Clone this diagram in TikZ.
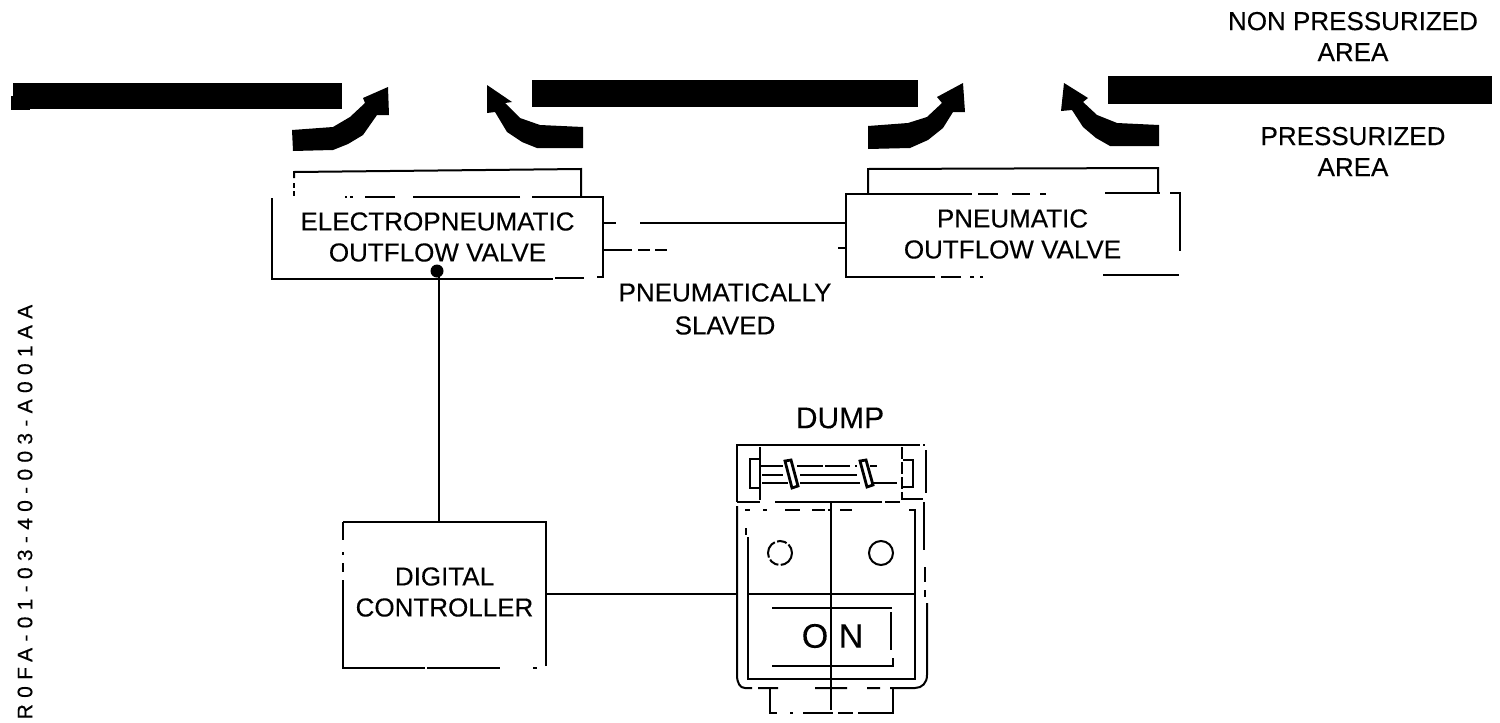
\documentclass[tikz,border=0pt]{standalone}
\usepackage{fontspec}
\setmainfont{Liberation Sans}[FakeBold=0.25]
\newcommand{\lbl}{\fontsize{13}{15.5}\selectfont}
\tikzset{
  ln/.style={line width=1pt,line cap=butt},
  bar/.style={fill=black,draw=none},
  txt/.style={align=center,inner sep=0pt,font=\lbl},
  box/.style={draw=none,inner sep=0pt,rectangle},
  flow/.style={fill=black,draw=none},
  knob/.style={draw=black,fill=white,line width=1.4pt}
}
\begin{document}
\begin{tikzpicture}[x=0.5pt,y=-0.5pt]
\useasboundingbox (0,0) rectangle (1500,723);
% pressure bulkhead bars
\fill[bar] (13,83) rectangle (342,109);
\fill[bar] (11,96) rectangle (30,110);
\fill[bar] (532,80) rectangle (918,107);
\fill[bar] (1108,76) rectangle (1492,104);
% flow arrows
\fill[flow] (292,130) -- (333,127) -- (350,117) -- (365,103) -- (363,98) -- (388,87) -- (389,115) -- (377,115) -- (363,135) -- (348,144) -- (333,150) -- (293,151) -- cycle;
\fill[flow] (583,127) -- (540,125) -- (520,118) -- (505,103) -- (512,102) -- (487,85) -- (487,113) -- (495,112) -- (507,132) -- (522,142) -- (537,148) -- (583,148) -- cycle;
\fill[flow] (868,126) -- (908,123) -- (927,117) -- (942,103) -- (937,97) -- (963,83) -- (965,112) -- (953,112) -- (943,128) -- (928,140) -- (910,148) -- (868,149) -- cycle;
\fill[flow] (1159,125) -- (1117,123) -- (1097,115) -- (1083,102) -- (1088,98) -- (1064,83) -- (1061,111) -- (1072,110) -- (1083,127) -- (1096,138) -- (1110,146) -- (1159,146) -- cycle;
% labels
\node[txt] (npa) at (1353,36.5) {NON PRESSURIZED\\AREA};
\node[txt] (pa) at (1353,151.5) {PRESSURIZED\\AREA};
\node[txt] (slv) at (725,309) {PNEUMATICALLY\\[1pt]SLAVED};
% electropneumatic valve
\node[box,minimum width=165.5pt,minimum height=41pt,txt] (ev) at (437.5,237) {ELECTROPNEUMATIC\\OUTFLOW VALVE};
\draw[ln] (272,198) -- (272,279) -- (553,279) (555,278) -- (584,278) (597,277) -- (603,277) -- (603,197) -- (532,197);
\draw[ln] (520,197) -- (413,197) (395,197) -- (365,197) (350,197) -- (353,197) (345,197) -- (347,197);
\draw[ln] (294,178) -- (294,172) -- (581,169) -- (581,197);
\draw[ln] (294,183) -- (294,188) (294,191) -- (294,196);
% pneumatic valve
\node[box,minimum width=167pt,minimum height=41pt,txt] (pv) at (1012.5,234) {PNEUMATIC\\OUTFLOW VALVE};
\draw[ln] (983,277) -- (980,277) (974,277) -- (970,277) (961,277) -- (941,277) (935,277) -- (846,277) -- (846,194) -- (972,194);
\draw[ln] (978,194) -- (998,194) (1012,194) -- (1030,194) (1040,194) -- (1046,194) (1105,193) -- (1160,193) (1170,193) -- (1180,193) -- (1180,251);
\draw[ln] (1103,275) -- (1179,275);
\draw[ln] (868,194) -- (868,169) -- (1158,168) -- (1158,193);
% slaved pneumatic lines
\coordinate (c1a) at (616,223);
\coordinate (c1b) at (640,223);
\draw[ln] (ev.east |- c1a) -- (c1a);
\draw[ln] (c1b) -- (pv.west |- c1b);
\coordinate (c2a) at (632,250);
\draw[ln] (ev.east |- c2a) -- (c2a);
\draw[ln] (638,250) -- (650,250) (655,250) -- (667,250) (838,248) -- (846,248);
% digital controller
\node[box,minimum width=101.5pt,minimum height=73pt,txt] (dc) at (444.5,594.5) {};
\node[txt] (dct) at (444.5,592) {DIGITAL\\CONTROLLER};
\draw[ln] (343,522) -- (343,540) (343,552) -- (343,555) (343,563) -- (343,572) (343,580) -- (343,668) -- (425,668) (427,668) -- (500,668) (533,668) -- (537,668) (546,666) -- (546,521.5) -- (343,521.5);
\fill (437,271) circle (6.5);
\coordinate (dot) at (439,271);
\draw[ln] (dot) -- (dc.north -| dot);
% dump switch
\node[txt] (dmp) at (840,418) {\fontsize{15}{15}\selectfont DUMP};
\node[box,minimum width=95pt,minimum height=121.5pt] (sw) at (832,566.5) {};
\coordinate (c3) at (500,594);
\draw[ln] (dc.east |- c3) -- (sw.west |- c3);
% guard
\draw[ln] (737,502) -- (737,445) -- (920,445) (923,445) -- (925,445);
\draw[ln] (926,450) -- (926,493);
\draw[ln] (737,502) -- (760,502) (775,502) -- (882,502) (885,502) -- (900,502) (902,499) -- (923,499);
% body outline
\draw[ln] (737,506) -- (737,675) .. controls (737,683) and (740,688) .. (745,688) -- (752,688) (758,688) -- (778,688) (815,688) -- (847,688) (867,688) -- (880,688) (890,688) -- (915,688) .. controls (922,688) and (927,683) .. (927,675) -- (927,603);
\draw[ln] (924,502) -- (924,550) (925,567) -- (925,582) (925,590) -- (925,597);
% inner panel
\draw[ln] (745,510) -- (750,510) (763,510) -- (767,510) (785,510) -- (800,510) (812,510) -- (825,510) (828,510) -- (832,510) (840,510) -- (852,510);
\draw[ln] (746,528) -- (746,535) (748,537) -- (748,679) -- (915,679) -- (915,510) -- (909,510);
\draw[ln] (748,594) -- (915,594);
\draw[ln] (831,502) -- (831,710);
\draw[ln,dash pattern=on 9pt off 1.2pt on 5pt off 1.2pt] (780,553) circle (12);
\draw[ln] (881,553) circle (12);
% ON indicator
\draw[ln] (772,608) -- (892,608) (891,612) -- (891,650);
\draw[ln] (772,666) -- (893,666) -- (893,658);
\node[inner sep=0pt,font=\fontsize{17}{17}\selectfont] (on1) at (815,636) {O};
\node[inner sep=0pt,font=\fontsize{17}{17}\selectfont] (on2) at (851,636) {N};
% lower tab
\draw[ln] (770,689) -- (770,713) -- (777,713) (790,713) -- (793,713) (803,713) -- (833,713) (838,713) -- (853,713) (858,713) -- (893,713) -- (893,689);
% guard bar
\draw[line width=1.4pt] (760,447) -- (760,500);
\draw[ln] (750,459) rectangle (760,488);
\draw[ln] (760,466) -- (783,466) (797,466) -- (823,466) (825,466) -- (850,466) (855,466) -- (857,466) (870,466) -- (877,466);
\draw[ln] (762,475) -- (783,475) (800,475) -- (857,475);
\draw[ln] (762,483) -- (788,483) (800,483) -- (860,483) (873,483) -- (897,483);
\draw[knob] (785,461) -- (791,460) -- (798,486) -- (792,488) -- cycle;
\draw[knob] (860,461) -- (866,460) -- (873,485) -- (867,487) -- cycle;
\draw[ln,dash pattern=on 6pt off 1.5pt] (902,447) -- (902,500);
\draw[ln] (903,460) -- (913,460) -- (913,487) -- (903,487);
% drawing reference
\node[inner sep=0pt,rotate=90,font=\fontsize{10.5}{10.5}\selectfont\addfontfeature{LetterSpace=30}] (ref) at (25,512) {R0FA-01-03-40-003-A001AA};
\end{tikzpicture}
\end{document}
